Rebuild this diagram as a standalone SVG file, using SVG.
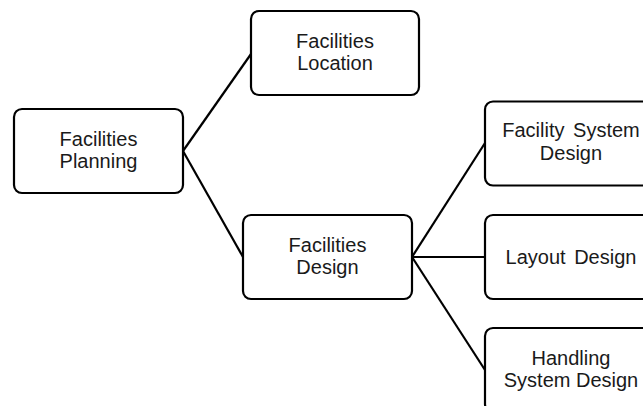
<svg xmlns="http://www.w3.org/2000/svg" width="643" height="406" viewBox="0 0 643 406">
  <style>
    .box { fill: #ffffff; stroke: #000000; stroke-width: 2.2; }
    .label { font-family: "Liberation Sans", Arial, sans-serif; font-size: 20px; fill: #1a1a1a; text-anchor: middle; }
    .wide { word-spacing: 3px; }
    .link { stroke: #000000; stroke-width: 2.2; fill: none; }
  </style>
  <rect width="643" height="406" fill="#ffffff"/>

  <!-- connectors -->
  <g id="connectors">
    <line class="link" x1="183" y1="151" x2="251" y2="54"/>
    <line class="link" x1="183" y1="151" x2="243" y2="257"/>
    <line class="link" x1="412" y1="257" x2="485" y2="143"/>
    <line class="link" x1="412" y1="257" x2="485" y2="257"/>
    <line class="link" x1="412" y1="257" x2="485" y2="370"/>
  </g>

  <g id="facilities-planning">
    <rect class="box" x="14" y="109" width="169" height="84" rx="8"/>
    <text class="label" x="98.5" y="145.5">Facilities</text>
    <text class="label" x="98.5" y="167.5">Planning</text>
  </g>

  <g id="facilities-location">
    <rect class="box" x="251" y="11" width="168" height="84" rx="8"/>
    <text class="label" x="335" y="47.5">Facilities</text>
    <text class="label" x="335" y="69.5">Location</text>
  </g>

  <g id="facilities-design">
    <rect class="box" x="243" y="215" width="169" height="84" rx="8"/>
    <text class="label" x="327.5" y="251.5">Facilities</text>
    <text class="label" x="327.5" y="273.5">Design</text>
  </g>

  <g id="facility-system-design">
    <rect class="box" x="485" y="101.5" width="172" height="84" rx="8"/>
    <text class="label wide" x="571" y="137">Facility System</text>
    <text class="label" x="571" y="159.5">Design</text>
  </g>

  <g id="layout-design">
    <rect class="box" x="485" y="215" width="172" height="84" rx="8"/>
    <text class="label wide" x="571" y="263.5">Layout Design</text>
  </g>

  <g id="handling-system-design">
    <rect class="box" x="485" y="328" width="172" height="84" rx="8"/>
    <text class="label" x="571" y="364.5">Handling</text>
    <text class="label" x="571" y="386.5">System Design</text>
  </g>
</svg>
